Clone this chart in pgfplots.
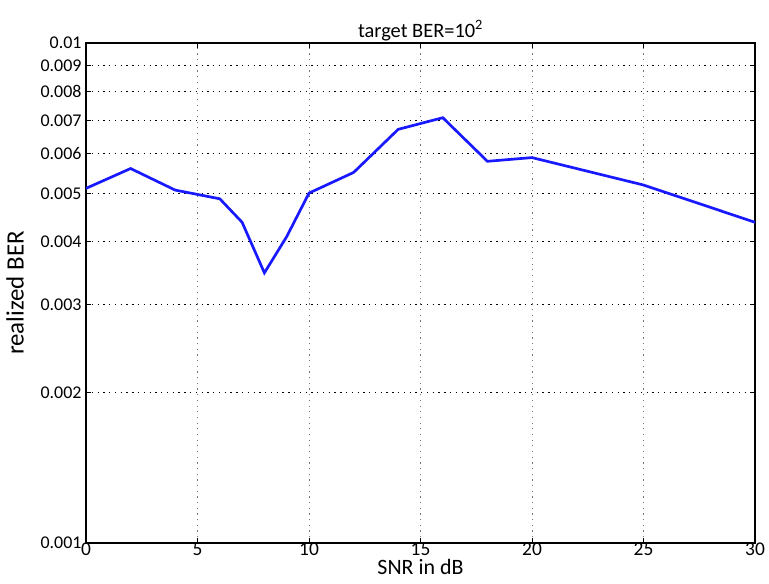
\documentclass[border=0pt]{standalone}
\usepackage{pgfplots}
\pgfplotsset{compat=1.18}
\usepackage{fontspec}
\setmainfont{Carlito}
\begin{document}
\begin{tikzpicture}
\begin{axis}[
  at={(0,0)}, anchor=south west,
  scale only axis, width=669bp, height=500bp,
  xmin=0, xmax=30,
  ymode=log, ymin=0.001, ymax=0.01,
  xtick={0,5,10,15,20,25,30},
  ytick={0.001,0.002,0.003,0.004,0.005,0.006,0.007,0.008,0.009,0.01},
  yticklabels={0.001,0.002,0.003,0.004,0.005,0.006,0.007,0.008,0.009,0.01},
  yminorticks=false,
  /pgf/number format/assume math mode=true,
  xticklabel style={font=\fontsize{19.5}{19.5}\selectfont, inner sep=1pt, yshift=1pt},
  yticklabel style={font=\fontsize{18}{18}\selectfont, xshift=-1pt},
  grid=major,
  major x grid style={black!55, line width=0.9pt, dash pattern=on 1.2pt off 4.5pt},
  major y grid style={black, line width=1pt, dash pattern=on 1.3pt off 4.5pt},
  axis line style={line width=1.8pt, black},
  tick style={black, line width=1pt},
  tick align=inside,
  major tick length=5bp,
  title={target BER=10\textsuperscript{2}},
  title style={font=\fontsize{20.5}{20.5}\selectfont, yshift=-7bp},
  xlabel={SNR in dB},
  xlabel style={font=\fontsize{22}{22}\selectfont, inner sep=0pt, yshift=-2bp},
  ylabel={realized BER},
  ylabel style={font=\fontsize{25}{25}\selectfont, yshift=10bp},
]
\addplot[color={rgb,255:red,25;green,25;blue,255}, line width=2.7pt] coordinates {
(0,0.00512) (2,0.00561) (4,0.00508) (6,0.00488) (7,0.00438) (8,0.00347)
(9,0.0041) (10,0.00501) (12,0.00551) (14,0.00672) (16,0.00709)
(18,0.0058) (20,0.0059) (25,0.0052) (30,0.00438)
};
\end{axis}
\pgfresetboundingbox
\path (-86bp,-41bp) rectangle (683bp,543bp);
\end{tikzpicture}
\end{document}
